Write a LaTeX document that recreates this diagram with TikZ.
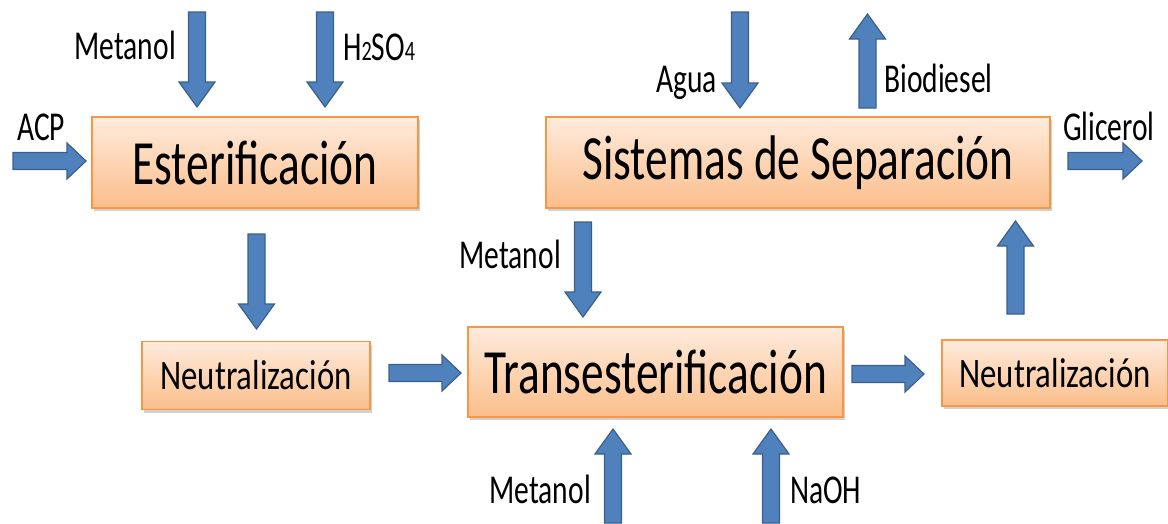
\documentclass[tikz,border=0pt]{standalone}
\usepackage{fontspec}
\setmainfont{Carlito}[FakeStretch=0.72]
\newfontfamily\neufont{Carlito}[FakeStretch=0.78]
\usetikzlibrary{calc,shadows}
\definecolor{boxtop}{HTML}{FFEBDD}
\definecolor{boxbot}{HTML}{FBBE8A}
\definecolor{boxline}{HTML}{F79646}
\definecolor{arrfillc}{HTML}{4F81BD}
\definecolor{arrlinec}{HTML}{3A5F8D}
\tikzset{
  procbox/.style={draw=boxline, line width=1.3pt, top color=boxtop, bottom color=boxbot,
    inner sep=0pt, drop shadow={shadow xshift=2pt, shadow yshift=-3pt, opacity=0.3, fill=black!60}},
  bigtxt/.style={font=\fontsize{63}{63}\selectfont},
  midtxt/.style={font=\neufont\fontsize{42}{42}\selectfont},
  lbl/.style={font=\fontsize{41}{41}\selectfont, inner sep=0pt},
  blockfill/.style={fill=arrfillc, draw=arrlinec, line width=1.2pt},
}
\newcommand\blockarrow[3]{%
  \coordinate (#2-n) at ($(#2)!#3!(#1)$);
  \path[blockfill] ($(#1)!8.5pt!90:(#2)$) -- ($(#2-n)!8.5pt!90:(#2)$) -- ($(#2-n)!18pt!90:(#2)$)
    -- (#2) -- ($(#2-n)!18pt!-90:(#2)$) -- ($(#2-n)!8.5pt!-90:(#2)$) -- ($(#1)!8.5pt!-90:(#2)$) -- cycle;}
\begin{document}
\begin{tikzpicture}[x=1pt,y=-1pt]
\useasboundingbox (0,0) rectangle (1168,523);
% boxes
\node[procbox,bigtxt,minimum width=326pt,minimum height=91pt] (est) at (255,162.5) {Esterificación};
\node[procbox,bigtxt,minimum width=504pt,minimum height=91pt] (sep) at (798,162.5) {Sistemas de Separación};
\node[procbox,midtxt,minimum width=228pt,minimum height=68pt] (neu1) at (256,375.5) {Neutralización};
\node[procbox,bigtxt,minimum width=375pt,minimum height=90pt] (tra) at (655.5,372) {Transesterificación};
\node[procbox,midtxt,minimum width=226pt,minimum height=66pt] (neu2) at (1055,373) {Neutralización};
% arrow end points
\coordinate (a1s) at (197,12);   \coordinate (a1e) at (197,107);
\coordinate (a2s) at (325,12);   \coordinate (a2e) at (325,107);
\coordinate (a3s) at (13,161);   \coordinate (a3e) at (86,161);
\coordinate (a4s) at (256.5,234); \coordinate (a4e) at (256.5,329);
\coordinate (a5s) at (389,373);  \coordinate (a5e) at (461,373);
\coordinate (a6s) at (583,222);  \coordinate (a6e) at (583,317);
\coordinate (a7s) at (613,523);  \coordinate (a7e) at (613,429);
\coordinate (a8s) at (771,523);  \coordinate (a8e) at (771,429);
\coordinate (a9s) at (852,374);  \coordinate (a9e) at (924,374);
\coordinate (a10s) at (1015.5,314); \coordinate (a10e) at (1015.5,221);
\coordinate (a11s) at (740,12);  \coordinate (a11e) at (740,108);
\coordinate (a12s) at (867.5,108); \coordinate (a12e) at (867.5,14);
\coordinate (a13s) at (1068,161); \coordinate (a13e) at (1142,161);
\blockarrow{a1s}{a1e}{25pt}
\blockarrow{a2s}{a2e}{25pt}
\blockarrow{a3s}{a3e}{19pt}
\blockarrow{a4s}{a4e}{25pt}
\blockarrow{a5s}{a5e}{19pt}
\blockarrow{a6s}{a6e}{25pt}
\blockarrow{a7s}{a7e}{25pt}
\blockarrow{a8s}{a8e}{25pt}
\blockarrow{a9s}{a9e}{19pt}
\blockarrow{a10s}{a10e}{25pt}
\blockarrow{a11s}{a11e}{25pt}
\blockarrow{a12s}{a12e}{25pt}
\blockarrow{a13s}{a13e}{19pt}
% labels
\node[lbl,anchor=base east] (l1) at (176,59) {Metanol};
\node[lbl,anchor=base west] (l2) at (343,60) {H{\fontsize{28}{28}\selectfont 2}SO{\fontsize{28}{28}\selectfont 4}};
\node[lbl,anchor=base west] (l3) at (17,140) {ACP};
\node[lbl,anchor=base east] (l4) at (717,92) {Agua};
\node[lbl,anchor=base west] (l5) at (884,92) {Biodiesel};
\node[lbl,anchor=base west] (l6) at (1063,140) {Glicerol};
\node[lbl,anchor=base east] (l7) at (561,268) {Metanol};
\node[lbl,anchor=base east] (l8) at (591,503) {Metanol};
\node[lbl,anchor=base west] (l9) at (790,503) {NaOH};
\end{tikzpicture}
\end{document}
